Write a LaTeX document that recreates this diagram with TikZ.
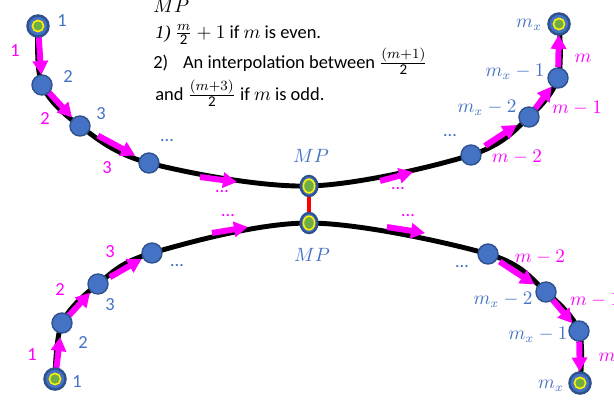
\documentclass[tikz,border=0pt]{standalone}
\usepackage{fontspec}
\setmainfont{Carlito}
\newfontfamily\serifit{Liberation Serif}
\usetikzlibrary{arrows.meta,calc,shapes.geometric}

\definecolor{labelBlue}{HTML}{4472C4}
\definecolor{nodeFill}{HTML}{4472C4}
\definecolor{nodeBorder}{HTML}{2F528F}
\definecolor{endGreen}{HTML}{70AD47}
\definecolor{flowMagenta}{HTML}{FF00FF}

\pgfdeclarelayer{tracks}
\pgfdeclarelayer{flows}
\pgfsetlayers{tracks,flows,main}

% small fraction over 2, as in the rule text
\newcommand{\halfof}[1]{\frac{\mbox{\fontsize{8.5}{9}\selectfont$#1$}}{\mbox{\fontsize{8.5}{9}\selectfont 2}}}

\tikzset{
  track/.style={line width=2.8pt, black, line cap=round},
  link/.style={line width=2.3pt, red},
  flow/.style={line width=3.4pt, flowMagenta, -{Triangle[width=8.5pt,length=8pt]}},
  ptnode/.style={circle, fill=nodeFill, draw=nodeBorder, line width=0.8pt, minimum size=11.4pt, inner sep=0pt},
  endnode/.style={ptnode, minimum size=12pt, line width=1.4pt,
    path picture={\draw[yellow, line width=0.9pt, fill=endGreen] (path picture bounding box.center) circle (3.2pt);}},
  mpnode/.style={ellipse, fill=nodeFill, draw=nodeBorder, line width=1.2pt, minimum width=9.7pt, minimum height=11.6pt, inner sep=0pt,
    path picture={\draw[yellow, line width=0.9pt, fill=endGreen] (path picture bounding box.center) ellipse (3.2pt and 3.9pt);}},
  idx/.style={text=labelBlue, inner sep=0pt, font=\fontsize{10.5}{12}\selectfont},
  stepidx/.style={text=flowMagenta, inner sep=0pt, font=\fontsize{10.5}{12}\selectfont},
  rule/.style={anchor=base west, inner sep=0pt, font=\fontsize{10.5}{12}\selectfont}
}

\begin{document}
\begin{tikzpicture}[x=0.02cm, y=-0.02cm]
    \useasboundingbox (0,0) rectangle (614,400);

    % Upper track points
    \node[endnode] (t1) at (38,26) {};
    \node[ptnode] (t2) at (42,85) {};
    \node[ptnode] (t3) at (80,126) {};
    \node[ptnode] (t4) at (149,163) {};
    \node[mpnode] (mpt) at (309,186) {};
    \node[ptnode] (t5) at (471,155) {};
    \node[ptnode] (t6) at (529,117) {};
    \node[ptnode] (t7) at (558,78) {};
    \node[endnode] (t8) at (559,24) {};

    % Lower track points
    \node[endnode] (b1) at (55,379) {};
    \node[ptnode] (b2) at (62,323) {};
    \node[ptnode] (b3) at (98,284) {};
    \node[ptnode] (b4) at (152,253) {};
    \node[mpnode] (mpb) at (309,223) {};
    \node[ptnode] (b5) at (488,254) {};
    \node[ptnode] (b6) at (546,292) {};
    \node[ptnode] (b7) at (579,331) {};
    \node[endnode] (b8) at (580,383) {};

    % Ends of the arrows between far points
    \coordinate (ul-s) at (200,177);
    \coordinate (ul-e) at (237,182);
    \coordinate (ur-s) at (380,181);
    \coordinate (ur-e) at (413,172);
    \coordinate (ll-s) at (212,233);
    \coordinate (ll-e) at (248,227);
    \coordinate (lr-s) at (387,227);
    \coordinate (lr-e) at (425,233);

    % Draw tracks and link
    \begin{pgfonlayer}{tracks}
    \draw[track] plot[smooth, tension=0.55] coordinates {(t1.center) (t2.center) (t3.center) (t4.center) (mpt.center) (t5.center) (t6.center) (t7.center) (t8.center)};
    \draw[track] plot[smooth, tension=0.55] coordinates {(b1.center) (b2.center) (b3.center) (b4.center) (mpb.center) (b5.center) (b6.center) (b7.center) (b8.center)};
    \draw[link] (mpt.center) -- (mpb.center);
    \end{pgfonlayer}

    % Draw step arrows
    \begin{pgfonlayer}{flows}
    \foreach \a/\b/\s/\e in {t1/t2/0.05/0.83, t2/t3/0.16/0.79, t3/t4/0.26/0.8, t5/t6/0.24/0.79, t6/t7/0.2/0.78, t7/t8/0.2/0.8,
                             b1/b2/0.12/0.75, b2/b3/0.1/0.78, b3/b4/0.22/0.81, b5/b6/0.2/0.8, b6/b7/0.2/0.8, b7/b8/0.2/0.78}
        \draw[flow] ($(\a)!\s!(\b)$) -- ($(\a)!\e!(\b)$);
    \foreach \a/\b in {ul-s/ul-e, ur-s/ur-e, ll-s/ll-e, lr-s/lr-e}
        \draw[flow] (\a) -- (\b);
    \end{pgfonlayer}

    % Point labels, upper track
    \node[idx] (lt1) at (62,21) {1};
    \node[idx] (lt2) at (68,77) {2};
    \node[idx] (lt3) at (101,114) {3};
    \node[idx] (lt4) at (167,141) {\ldots};
    \node[idx] (lmpt) at (311,156) {$MP$};
    \node[idx] (lt5) at (450,136) {\ldots};
    \node[idx] (lt6) at (487,108) {$m_x-2$};
    \node[idx] (lt7) at (515,72) {$m_x-1$};
    \node[idx] (lt8) at (529,25) {$m_x$};

    % Step labels, upper track
    \node[stepidx] (st1) at (15,51) {1};
    \node[stepidx] (st2) at (45,119) {2};
    \node[stepidx] (st3) at (107,168) {3};
    \node[stepidx] (st4) at (222,192) {\ldots};
    \node[stepidx] (st5) at (398,189) {\ldots};
    \node[stepidx] (st6) at (517,157) {$m-2$};
    \node[stepidx] (st7) at (577,108) {$m-1$};
    \node[stepidx] (st8) at (583,58) {$m$};

    % Point labels, lower track
    \node[idx] (lb1) at (77,382) {1};
    \node[idx] (lb2) at (83,343) {2};
    \node[idx] (lb3) at (110,305) {3};
    \node[idx] (lb4) at (177,266) {\ldots};
    \node[idx] (lmpb) at (312,255) {$MP$};
    \node[idx] (lb5) at (462,267) {\ldots};
    \node[idx] (lb6) at (503,300) {$m_x-2$};
    \node[idx] (lb7) at (538,335) {$m_x-1$};
    \node[idx] (lb8) at (551,386) {$m_x$};

    % Step labels, lower track
    \node[stepidx] (sb1) at (32,355) {1};
    \node[stepidx] (sb2) at (60,290) {2};
    \node[stepidx] (sb3) at (110,252) {3};
    \node[stepidx] (sb4) at (228,216) {\ldots};
    \node[stepidx] (sb5) at (408,216) {\ldots};
    \node[stepidx] (sb6) at (540,257) {$m-2$};
    \node[stepidx] (sb7) at (595,300) {$m-1$};
    \node[stepidx] (sb8) at (607,357) {$m$};

    % Midpoint rule
    \node[rule] (rhead) at (153,12) {$MP$};
    \node[rule] (rone) at (155,38) {{\serifit\itshape 1)} $\halfof{m}+1$ if $m$ is even.};
    \node[rule] (rtwo) at (153,68) {2)\hspace{0.8em}An interpolation between $\halfof{(m{+}1)}$};
    \node[rule] (rthree) at (155,100) {and $\halfof{(m{+}3)}$ if $m$ is odd.};

\end{tikzpicture}
\end{document}
